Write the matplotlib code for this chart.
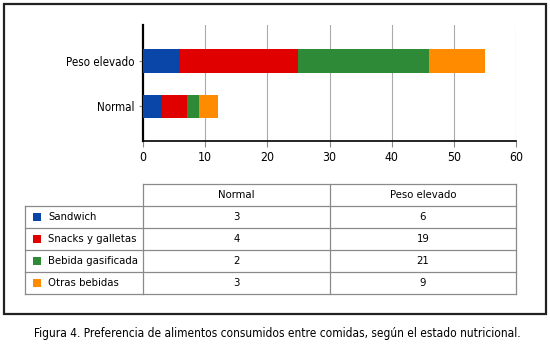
import matplotlib
matplotlib.use("Agg")
import matplotlib.pyplot as plt
from matplotlib.patches import Rectangle
from matplotlib.lines import Line2D

plt.rcParams['font.family'] = ['DejaVu Sans']
plt.rcParams['font.stretch'] = 'condensed'

categories = ["Normal", "Peso elevado"]
series_names = ["Sandwich", "Snacks y galletas", "Bebida gasificada", "Otras bebidas"]
values = {
    "Sandwich": [3, 6],
    "Snacks y galletas": [4, 19],
    "Bebida gasificada": [2, 21],
    "Otras bebidas": [3, 9],
}
colors = ["#0a46a8", "#e00000", "#2e8a37", "#ff8c00"]
xticks = [0, 10, 20, 30, 40, 50, 60]
caption = "Figura 4. Preferencia de alimentos consumidos entre comidas, según el estado nutricional."

W, H = 550, 346
fig = plt.figure(figsize=(W / 100, H / 100), dpi=100)

def fx(px):
    return px / W

def fy(py):
    return 1 - py / H

# outer frame
fig.add_artist(Rectangle((fx(4), fy(314)), fx(542), 310 / H, transform=fig.transFigure,
                         fill=False, edgecolor="#222222", linewidth=1.6))

# chart axes
ax = fig.add_axes([fx(143), fy(141), fx(516 - 143), (141 - 25) / H])
left = [0] * len(categories)
for name, c in zip(series_names, colors):
    ax.barh(range(len(categories)), values[name], left=left, height=0.52, color=c, zorder=3)
    left = [l + v for l, v in zip(left, values[name])]
ax.set_xlim(0, 60)
ax.set_ylim(-0.76, 1.79)
ax.set_xticks(xticks)
ax.set_xticklabels([str(t) for t in xticks], fontsize=8.8)
ax.set_yticks(range(len(categories)))
ax.set_yticklabels(categories, fontsize=8.3)
for t in xticks[1:]:
    ax.axvline(t, color="#aaaaaa", linewidth=0.8, zorder=1)
for s in ["top", "right"]:
    ax.spines[s].set_visible(False)
ax.spines["left"].set_linewidth(1.6)
ax.spines["bottom"].set_linewidth(1.2)
ax.tick_params(axis="x", length=4, width=0.8, color="#888888", pad=3)
ax.tick_params(axis="y", length=3, width=0.8, color="#888888", pad=3)

# table
tcol = "#8a8a8a"
x_left, x_c1, x_c2, x_right = 25, 143, 330, 516
y_top = 184
row_h = 22
nrows = len(series_names)
y_hdr = y_top + row_h
y_bot = y_hdr + nrows * row_h

def hline(x0, x1, y):
    fig.add_artist(Line2D([fx(x0), fx(x1)], [fy(y), fy(y)], transform=fig.transFigure,
                          color=tcol, linewidth=0.9))

def vline(x, y0, y1):
    fig.add_artist(Line2D([fx(x), fx(x)], [fy(y0), fy(y1)], transform=fig.transFigure,
                          color=tcol, linewidth=0.9))

hline(x_c1, x_right, y_top)
hline(x_left, x_right, y_hdr)
for i in range(1, nrows):
    hline(x_left, x_right, y_hdr + i * row_h)
hline(x_left, x_right, y_bot)
vline(x_c1, y_top, y_bot)
vline(x_c2, y_top, y_bot)
vline(x_right, y_top, y_bot)
vline(x_left, y_hdr, y_bot)

fs = 8.1
fig.text(fx((x_c1 + x_c2) / 2), fy(y_top + row_h / 2), categories[0], ha="center", va="center", fontsize=fs)
fig.text(fx((x_c2 + x_right) / 2), fy(y_top + row_h / 2), categories[1], ha="center", va="center", fontsize=fs)
for i, (name, c) in enumerate(zip(series_names, colors)):
    yc = y_hdr + i * row_h + row_h / 2
    fig.add_artist(Rectangle((fx(33), fy(yc + 4)), fx(8), 8 / H, transform=fig.transFigure,
                             facecolor=c, edgecolor="none"))
    fig.text(fx(48), fy(yc), name, ha="left", va="center", fontsize=fs)
    fig.text(fx((x_c1 + x_c2) / 2), fy(yc), str(values[name][0]), ha="center", va="center", fontsize=fs)
    fig.text(fx((x_c2 + x_right) / 2), fy(yc), str(values[name][1]), ha="center", va="center", fontsize=fs)

fig.text(fx(277), fy(334), caption, ha="center", va="center", fontsize=8.6)

fig.savefig("out.png", dpi=100)
